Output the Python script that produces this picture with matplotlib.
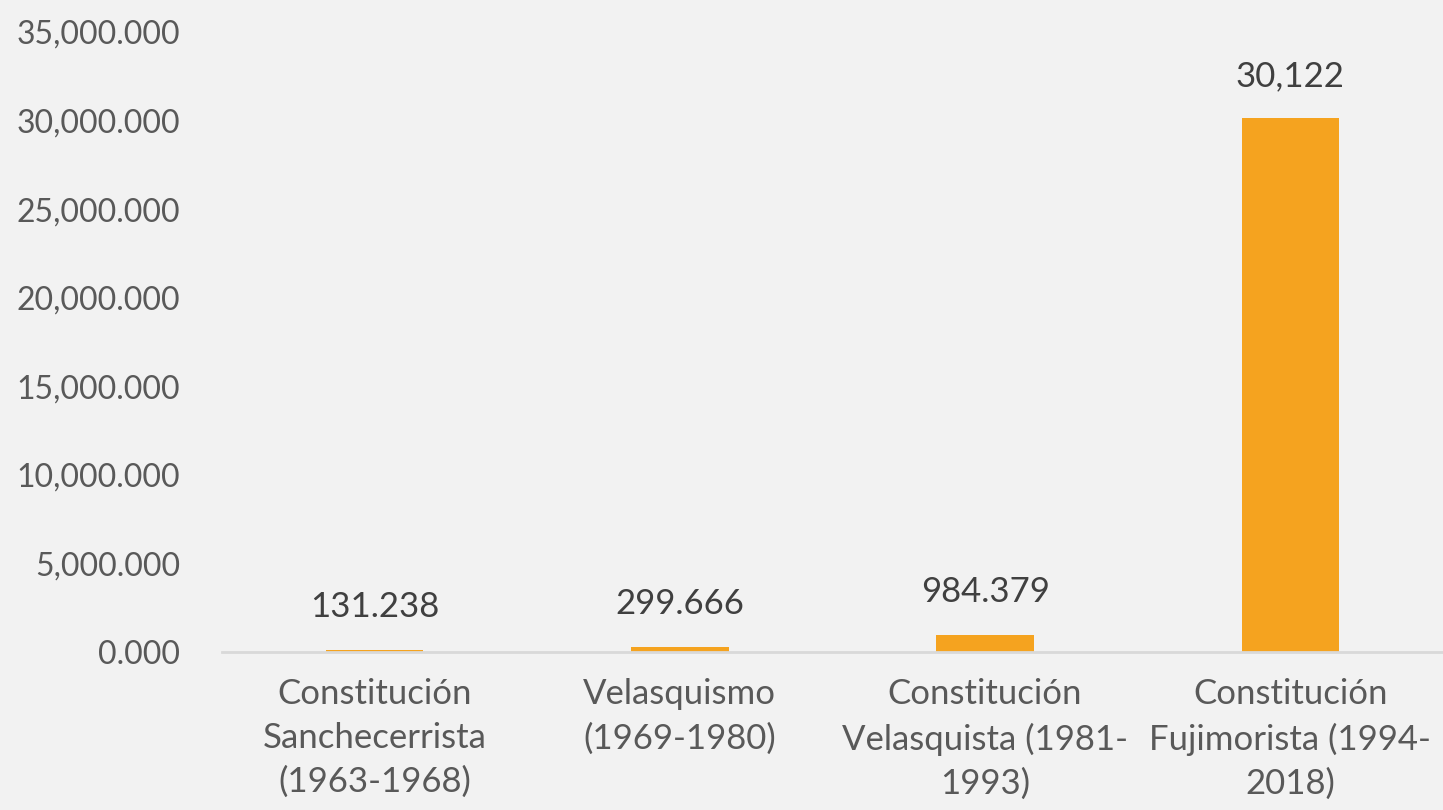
import matplotlib.pyplot as plt
from matplotlib.ticker import FuncFormatter, MultipleLocator

categories = ['Constitución\nSanchecerrista\n(1963-1968)',
              'Velasquismo\n(1969-1980)',
              'Constitución\nVelasquista (1981-\n1993)',
              'Constitución\nFujimorista (1994-\n2018)']
values = [131238, 299666, 984379, 30122000]
value_labels = ['131.238', '299.666', '984.379', '30,122']

bg = '#F2F2F2'
bar_color = '#F5A31F'

plt.rcParams['font.family'] = ['Lato', 'DejaVu Sans']

fig = plt.figure(figsize=(14.43, 8.10), dpi=100, facecolor=bg)
ax = fig.add_axes([0.1538, 0.195, 0.8462, 0.7655], facecolor=bg)

x = range(len(categories))
ax.bar(x, values, width=0.32, color=bar_color, zorder=2)

# value labels above bars
for i, (v, lab) in enumerate(zip(values, value_labels)):
    ax.annotate(lab, (i, v), xytext=(0, 19), textcoords='offset points',
                ha='center', va='bottom', fontsize=25, color='#404040')

ax.set_xlim(-0.5, 3.5)
ax.set_ylim(0, 35000000)
ax.yaxis.set_major_locator(MultipleLocator(5000000))
ax.yaxis.set_major_formatter(FuncFormatter(lambda v, p: f'{int(v / 1000):,}.000'))

ax.set_xticks(list(x))
ax.set_xticklabels(categories, fontsize=25, color='#595959', linespacing=1.45)
ax.tick_params(axis='x', length=0, pad=19)
ax.tick_params(axis='y', length=0, pad=30, labelsize=23, labelcolor='#595959')

for s in ['top', 'right', 'left']:
    ax.spines[s].set_visible(False)
ax.spines['bottom'].set_color('#D9D9D9')
ax.spines['bottom'].set_linewidth(2)

plt.savefig('out.png', dpi=100, facecolor=bg)
